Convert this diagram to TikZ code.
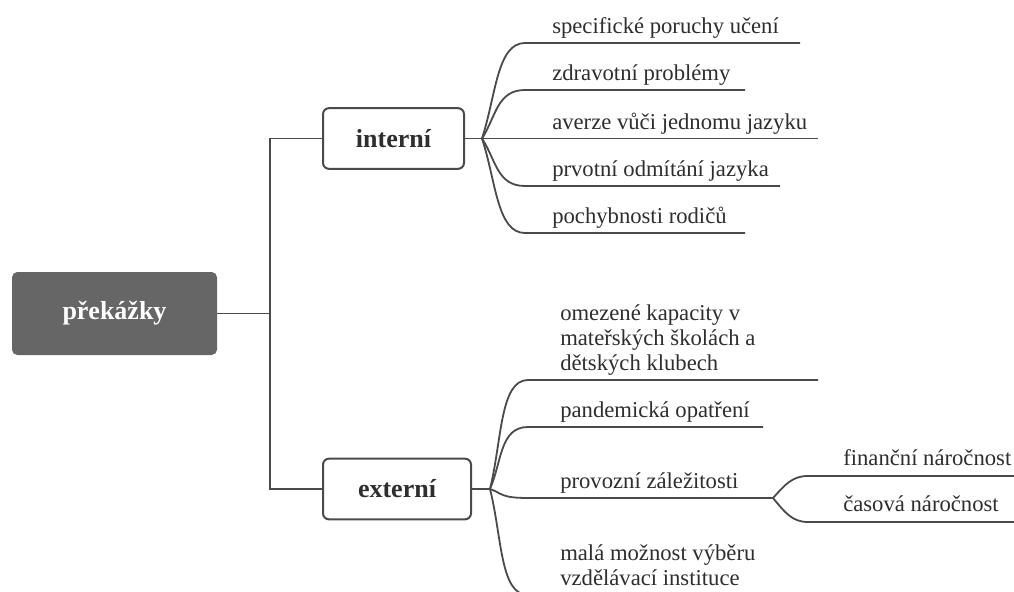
\documentclass[tikz,border=0pt]{standalone}
\usepackage{fontspec}
\setmainfont{Liberation Serif}
\definecolor{linegray}{HTML}{4A4A4A}
\definecolor{rootgray}{HTML}{666666}
\definecolor{textgray}{HTML}{2E2E2E}
\begin{document}
\begin{tikzpicture}[x=0.75pt,y=-0.75pt,
    root/.style={fill=rootgray,rounded corners=4pt,minimum width=153.75pt,minimum height=62.25pt,text=white,font=\fontsize{19.5}{22}\selectfont\bfseries},
    cat/.style={draw=linegray,line width=1.5pt,rounded corners=4.5pt,minimum height=45.5pt,fill=white,text=textgray,font=\fontsize{19.5}{22}\selectfont\bfseries},
    leaf/.style={anchor=south west,inner sep=0pt,text depth=0pt,text=textgray,font=\fontsize{17}{19}\selectfont,align=left},
    branch/.style={draw=linegray,line width=1.35pt}]
    \clip (0,0) rectangle (1014,592);
    \fill[white] (0,0) rectangle (1014,592);
    % root and the two groups
    \node[root] (root) at (114.5,313.5) {překážky};
    \node[cat,minimum width=105.75pt] (int) at (393.5,138.5) {interní};
    \node[cat,minimum width=111pt] (ext) at (397,489) {externí};
    \coordinate (trunk) at (270,313.5);
    \draw[branch] (root.east) -- (trunk);
    \draw[branch] (int.west) -| (trunk);
    \draw[branch] (ext.west) -| (trunk);
    % interní
    \coordinate (hubI) at (482,138.5);
    \draw[branch] (int.east) -- (hubI);
    \foreach \y/\e/\t [count=\i] in {43/800/specifické poruchy učení,90/745/zdravotní problémy,138.5/818/averze vůči jednomu jazyku,186/780/prvotní odmítání jazyka,233/745/pochybnosti rodičů}{
        \coordinate (is\i) at (525,\y);
        \coordinate (ie\i) at (\e,\y);
        \node[leaf] (il\i) at (552,\y-9) {\t};
        \draw[branch] (hubI) .. controls +(14,{(\y-138.5)*0.45}) and +(-28,0) .. (is\i) -- (ie\i);
    }
    % externí
    \coordinate (hubE) at (490,489);
    \draw[branch] (ext.east) -- (hubE);
    \foreach \y/\e/\t [count=\i] in {380/818/{omezené kapacity v\\mateřských školách a\\dětských klubech},427/763/pandemická opatření,498/773/provozní záležitosti,595/760/{malá možnost výběru\\vzdělávací instituce}}{
        \coordinate (es\i) at (528,\y);
        \coordinate (ee\i) at (\e,\y);
        \node[leaf] (el\i) at (560,\y-9) {\t};
        \draw[branch] (hubE) .. controls +(12,{(\y-489)*0.45}) and +(-28,0) .. (es\i) -- (ee\i);
    }
    % provozní záležitosti
    \coordinate (hubP) at (ee3);
    \foreach \y/\t [count=\i] in {476/finanční náročnost,522/časová náročnost}{
        \coordinate (ps\i) at (808,\y);
        \coordinate (pe\i) at (1014,\y);
        \node[leaf] (pl\i) at (843,\y-10) {\t};
        \draw[branch] (hubP) .. controls +(12,{(\y-498)*0.6}) and +(-16,0) .. (ps\i) -- (pe\i);
    }
\end{tikzpicture}
\end{document}
